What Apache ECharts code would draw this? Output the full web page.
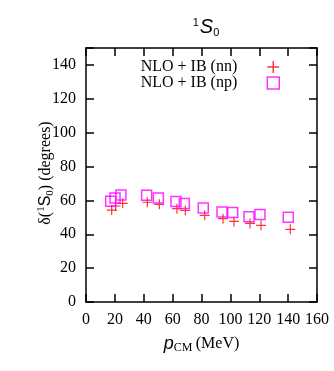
<!DOCTYPE html>
<html><head><meta charset="utf-8">
<script src="https://cdn.jsdelivr.net/npm/echarts@6/dist/echarts.min.js"></script>
<style>html,body{margin:0;padding:0;background:#fff}#c{width:334px;height:371px}</style>
</head><body><div id="c"></div>
<script>
const xTicks = [0, 20, 40, 60, 80, 100, 120, 140, 160];
const yTicks = [0, 20, 40, 60, 80, 100, 120, 140];
const nnP = [17.8, 20.5, 25.4, 42.5, 50.8, 63.0, 68.8, 82.2, 94.9, 102.5, 113.6, 121.2, 141.5];
const nnDelta = [54.3, 56.7, 58.3, 58.9, 57.7, 55.1, 54.1, 51.2, 49.2, 47.6, 46.4, 45.3, 42.9];
const npP = [17.1, 20.1, 24.2, 42.0, 50.1, 62.3, 68.1, 81.2, 94.2, 101.6, 112.9, 120.5, 140.1];
const npDelta = [59.5, 61.4, 63.2, 63.0, 61.4, 59.3, 58.1, 55.5, 53.1, 52.8, 50.4, 51.6, 50.0];
const seriesNames = ['NLO + IB (nn)', 'NLO + IB (np)'];

const serif = '"Liberation Serif", "Times New Roman", serif';
const sans = '"Liberation Sans", Arial, sans-serif';
const plus = 'path://M4.4,0h1.2v4.4h4.4v1.2h-4.4v4.4h-1.2v-4.4h-4.4v-1.2h4.4z';

const chart = echarts.init(document.getElementById('c'), null, {renderer: 'canvas'});
const axisCommon = {
  min: xTicks[0], max: xTicks[xTicks.length - 1], interval: 20,
  axisLine: {show: true, onZero: false, lineStyle: {color: '#000', width: 1.5}},
  axisTick: {show: true, inside: true, length: 8, lineStyle: {color: '#000', width: 1.5}},
  splitLine: {show: false}
};
chart.setOption({
  animation: false,
  backgroundColor: '#fff',
  title: {
    text: '{sup|1}{s|S}{sub|0}',
    left: 201, top: 12, textAlign: 'center',
    textStyle: {
      fontWeight: 'normal',
      rich: {
        sup: {fontFamily: sans, fontWeight: 'normal', fontSize: 11, padding: [0, 1, 10, 0], color: '#000'},
        s: {fontFamily: sans, fontWeight: 'normal', fontStyle: 'italic', fontSize: 20, color: '#000'},
        sub: {fontFamily: sans, fontWeight: 'normal', fontSize: 11, padding: [10, 0, 0, 0], color: '#000'}
      }
    }
  },
  legend: {
    orient: 'vertical', right: 49, top: 54, align: 'right',
    itemGap: 0, itemWidth: 12, itemHeight: 12,
    textStyle: {fontFamily: serif, fontSize: 16, lineHeight: 14, color: '#000', padding: [0, 25, 0, 0]},
    data: [
      {name: seriesNames[0], icon: plus, itemStyle: {color: '#ff0000'}},
      {name: seriesNames[1], icon: 'rect', itemStyle: {color: 'rgba(0,0,0,0)', borderColor: '#ff00ff', borderWidth: 1.5}}
    ]
  },
  graphic: [{
    type: 'text', x: 46, y: 173, rotation: Math.PI / 2,
    style: {
      text: '{t|δ(}{sup|1}{s|S}{sub|0}{t|) (degrees)}',
      align: 'center', verticalAlign: 'middle',
      rich: {
        t: {fontFamily: serif, fontSize: 16, fill: '#000', color: '#000'},
        s: {fontFamily: sans, fontSize: 16, fill: '#000', color: '#000'},
        sup: {fontFamily: serif, fontSize: 11, padding: [0, 0, 9, 0], fill: '#000', color: '#000'},
        sub: {fontFamily: serif, fontSize: 11, padding: [9, 0, 0, 0], fill: '#000', color: '#000'}
      }
    }
  }],
  grid: {left: 86, right: 17, top: 48, bottom: 69, containLabel: false},
  xAxis: [
    Object.assign({}, axisCommon, {
      type: 'value', position: 'bottom',
      axisLabel: {fontFamily: serif, fontSize: 16, color: '#000', margin: 10},
      name: '{p|p}{cm|CM} {u|(MeV)}', nameLocation: 'middle', nameGap: 32,
      nameTextStyle: {
        rich: {
          p: {fontFamily: sans, fontStyle: 'italic', fontSize: 18, color: '#000'},
          cm: {fontFamily: serif, fontSize: 12, padding: [8, 0, 0, 0], color: '#000'},
          u: {fontFamily: serif, fontSize: 16, color: '#000'}
        }
      }
    }),
    Object.assign({}, axisCommon, {type: 'value', position: 'top', axisLabel: {show: false}})
  ],
  yAxis: [
    Object.assign({}, axisCommon, {
      type: 'value', position: 'left', min: 0, max: 150, interval: 20,
      axisLabel: {fontFamily: serif, fontSize: 16, color: '#000', margin: 10,
        formatter: v => (yTicks.indexOf(v) >= 0 ? String(v) : '')}
    }),
    Object.assign({}, axisCommon, {type: 'value', position: 'right', min: 0, max: 150, interval: 20, axisLabel: {show: false}})
  ],
  series: [
    {
      name: seriesNames[0], type: 'scatter', symbol: plus, symbolSize: 10,
      itemStyle: {color: '#ff0000'},
      data: nnP.map((p, i) => [p, nnDelta[i]])
    },
    {
      name: seriesNames[1], type: 'scatter', symbol: 'rect', symbolSize: 10,
      itemStyle: {color: 'rgba(0,0,0,0)', borderColor: '#ff00ff', borderWidth: 1.5},
      data: npP.map((p, i) => [p, npDelta[i]])
    }
  ]
});
</script></body></html>
